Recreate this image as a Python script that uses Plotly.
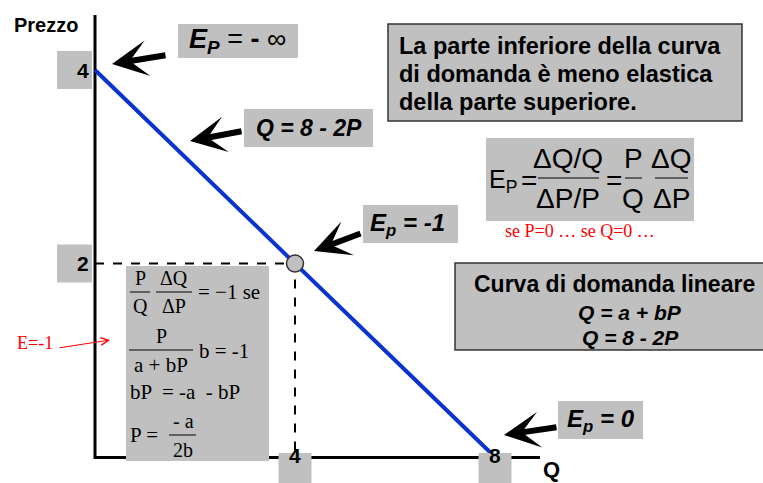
import plotly.graph_objects as go

# demand curve Q = 8 - 2P
q_curve = [0, 8]
p_curve = [4, 0]
q_point = [4]
p_point = [2]
x_ticks = [4, 8]
x_tick_labels = ["4", "8"]
y_ticks = [4, 2]
y_tick_labels = ["4", "2"]

W, H = 763, 483
SANS = "Liberation Sans, Arial, sans-serif"
SERIF = "Liberation Serif, Times New Roman, serif"
GRAY = "#c0c0c0"
BLUE = "#0a33d0"


def px(x):
    return x / W


def py(y):
    return 1 - y / H


def box(x0, y0, x1, y1, border=False):
    return dict(type="rect", xref="paper", yref="paper", layer="below",
                x0=px(x0), x1=px(x1), y0=py(y1), y1=py(y0),
                fillcolor=GRAY,
                line=dict(color="#333333", width=1.5 if border else 0))


def hline(x0, x1, y, width=1):
    return dict(type="line", xref="paper", yref="paper", layer="below",
                x0=px(x0), x1=px(x1), y0=py(y), y1=py(y),
                line=dict(color="black", width=width))


def txt(x, y, s, size, family=SANS, color="black", xanchor="center"):
    return dict(x=px(x), y=py(y), xref="paper", yref="paper", text=s,
                showarrow=False, xanchor=xanchor, yanchor="middle",
                font=dict(family=family, size=size, color=color))


def arrow(tip_x, tip_y, tail_x, tail_y, color="black", width=6, head=3, size=1.0):
    return dict(x=px(tip_x), y=py(tip_y), xref="paper", yref="paper", text="",
                showarrow=True, ax=tail_x - tip_x, ay=tail_y - tip_y,
                arrowhead=head, arrowwidth=width, arrowsize=size,
                arrowcolor=color, standoff=0)


fig = go.Figure()

# guide lines to the unit-elastic point
fig.add_trace(go.Scatter(x=[q_curve[0], q_point[0], q_point[0]],
                         y=[p_point[0], p_point[0], p_curve[1]],
                         mode="lines", line=dict(color="black", width=2, dash="dash"),
                         hoverinfo="skip"))
fig.add_trace(go.Scatter(x=q_curve, y=p_curve, mode="lines",
                         line=dict(color=BLUE, width=4), hoverinfo="skip"))
fig.add_trace(go.Scatter(x=q_point, y=p_point, mode="markers",
                         marker=dict(size=17, color=GRAY, line=dict(color="#333333", width=1.5)),
                         hoverinfo="skip"))

shapes = [
    # axes
    dict(type="line", xref="paper", yref="paper", layer="below",
         x0=px(95), x1=px(95), y0=py(15), y1=py(459),
         line=dict(color="black", width=3)),
    hline(94, 540, 457.5, width=3),
    # text boxes
    box(178, 24, 298, 58),
    box(388, 24, 742, 121, border=True),
    box(244, 109, 373, 147),
    box(486, 138, 694, 221),
    box(363, 205, 458, 243),
    box(126, 266, 269, 461),
    box(455, 263, 768, 350, border=True),
    box(558, 401, 643, 439),
    # fraction bars, right formula
    hline(538, 599, 178), hline(625, 642, 178), hline(655, 688, 178),
    # fraction bars, left formula
    hline(130, 150, 292), hline(156, 192, 292),
    hline(129, 193, 350), hline(169, 196, 435),
]

# gray tick boxes on the axes
for v in y_ticks:
    shapes.append(dict(type="rect", xref="paper", yref="y", layer="below",
                       ysizemode="pixel", yanchor=v, y0=-19, y1=19,
                       x0=px(57), x1=px(92), fillcolor=GRAY, line=dict(width=0)))
for v in x_ticks:
    shapes.append(dict(type="rect", xref="x", yref="paper", layer="above",
                       xsizemode="pixel", xanchor=v, x0=-16.5, x1=16.5,
                       y0=py(483), y1=py(453), fillcolor=GRAY, line=dict(width=0)))

annotations = []
for v, lab in zip(y_ticks, y_tick_labels):
    annotations.append(dict(x=px(75), y=v, xref="paper", yref="y", text="<b>%s</b>" % lab,
                            showarrow=False, font=dict(family=SANS, size=21, color="black")))
for v, lab in zip(x_ticks, x_tick_labels):
    annotations.append(dict(x=v, y=py(469), xref="x", yref="paper", text="<b>%s</b>" % lab,
                            showarrow=False, font=dict(family=SANS, size=21, color="black")))

annotations += [
    txt(46, 25, "<b>Prezzo</b>", 20),
    txt(551, 469, "<b>Q</b>", 22),
    txt(237, 41, "<b><i>E<sub>P</sub></i></b> = <b>-</b> ∞", 27),
    txt(397, 46, "<b>La parte inferiore della curva</b>", 23.5, xanchor="left"),
    txt(397, 74, "<b>di domanda è meno elastica</b>", 23.5, xanchor="left"),
    txt(397, 102, "<b>della parte superiore.</b>", 23.5, xanchor="left"),
    txt(309, 128, "<b><i>Q = 8 - 2P</i></b>", 23),
    txt(407, 224, "<b><i>E<sub>p</sub> = -1</i></b>", 24),
    txt(601, 420, "<b><i>E<sub>p</sub> = 0</i></b>", 24),
    txt(614, 284, "<b>Curva di domanda lineare</b>", 23),
    txt(630, 312, "<b><i>Q = a + bP</i></b>", 21),
    txt(630, 337, "<b><i>Q = 8 - 2P</i></b>", 21),
    # elasticity formula
    txt(487, 181, "E<sub>P</sub>", 25, xanchor="left"),
    txt(529, 180, "=", 28),
    txt(568, 158, "ΔQ/Q", 28),
    txt(568, 199, "ΔP/P", 28),
    txt(614, 180, "=", 28),
    txt(633, 158, "P", 28),
    txt(633, 199, "Q", 28),
    txt(671, 158, "ΔQ", 28),
    txt(671, 199, "ΔP", 28),
    txt(580, 231, "se P=0 … se Q=0 …", 18, family=SERIF, color="red"),
    # unit elasticity derivation
    txt(140, 278, "P", 20, family=SERIF),
    txt(140, 306, "Q", 20, family=SERIF),
    txt(174, 278, "ΔQ", 20, family=SERIF),
    txt(174, 306, "ΔP", 20, family=SERIF),
    txt(196, 292, "= −1 se", 21, family=SERIF, xanchor="left"),
    txt(161, 336, "P", 20, family=SERIF),
    txt(161, 365, "a + bP", 21, family=SERIF),
    txt(197, 351, "b = -1", 21, family=SERIF, xanchor="left"),
    txt(128, 392, "bP  = -a  - bP", 21, family=SERIF, xanchor="left"),
    txt(128, 435, "P =", 21, family=SERIF, xanchor="left"),
    txt(183, 421, "- a", 20, family=SERIF),
    txt(183, 450, "2b", 20, family=SERIF),
    txt(35, 343, "E=-1", 18, family=SERIF, color="red"),
    # arrows
    arrow(112, 64, 167, 55),
    arrow(190, 141, 243, 131),
    arrow(314, 251, 362, 233),
    arrow(504, 435, 558, 427),
    arrow(110, 340, 58, 348, color="red", width=1, head=5, size=1.5),
]

fig.update_layout(
    width=W, height=H,
    margin=dict(l=0, r=0, t=0, b=0),
    paper_bgcolor="white", plot_bgcolor="white",
    showlegend=False,
    xaxis=dict(visible=False, range=[-1.9, 13.36], fixedrange=True),
    yaxis=dict(visible=False, range=[-0.2687, 4.7235], fixedrange=True),
    shapes=shapes,
    annotations=annotations,
)

fig.write_html("out.html", config={"displayModeBar": False},
               post_script="document.body.style.margin = '0';")
